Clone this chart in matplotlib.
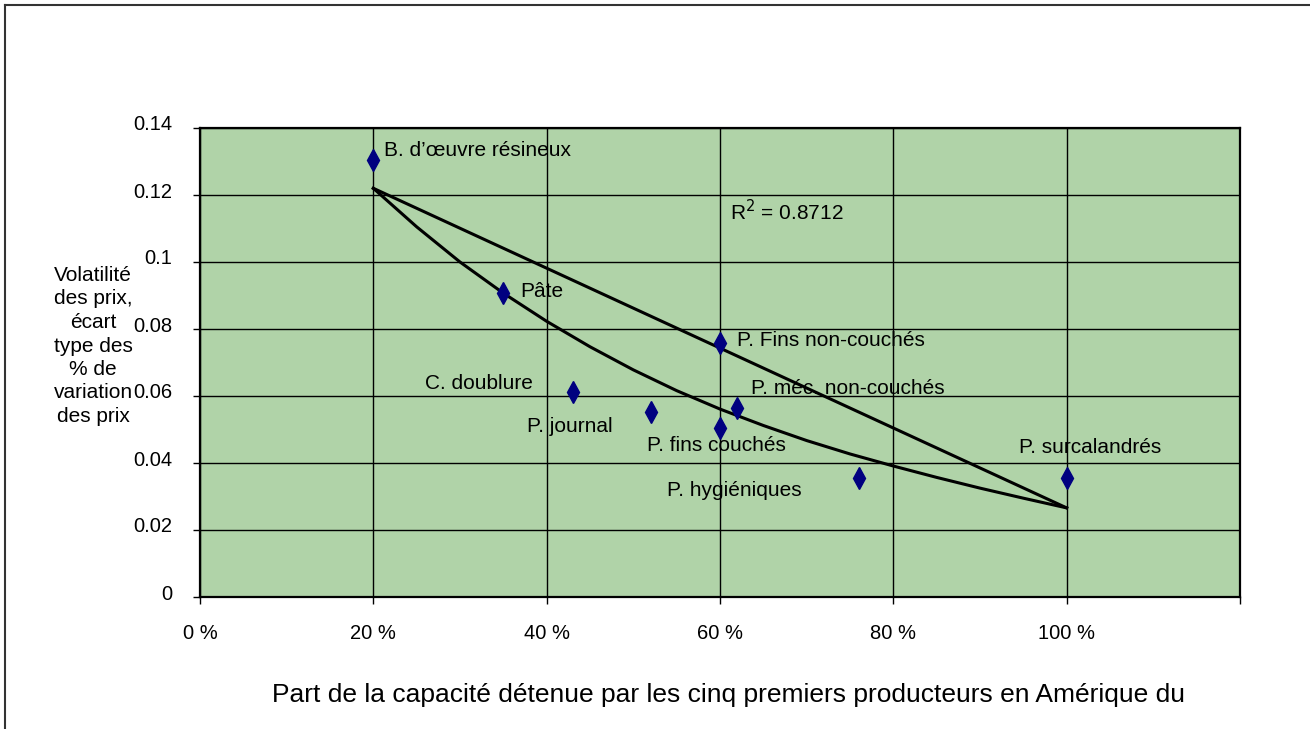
import matplotlib
matplotlib.use("Agg")

import matplotlib.pyplot as plt
import matplotlib.transforms as mtransforms
from matplotlib.lines import Line2D

plt.rcParams["font.family"] = ["Liberation Sans", "DejaVu Sans"]

# Products (share held by top five producers, price volatility)
products = [
    "B. d\u2019\u0153uvre r\u00e9sineux", "P\u00e2te", "C. doublure", "P. journal",
    "P. fins couch\u00e9s", "P. hygi\u00e9niques", "P. Fins non-couch\u00e9s",
    "P. m\u00e9c. non-couch\u00e9s", "P. surcalandr\u00e9s",
]
share = [0.20, 0.35, 0.43, 0.52, 0.60, 0.76, 0.60, 0.62, 1.00]
volatility = [0.1304, 0.0907, 0.0613, 0.0553, 0.0504, 0.0354, 0.0757, 0.0563, 0.0354]

# Trend curve
trend_x = [0.20, 0.25, 0.30, 0.35, 0.40, 0.45, 0.50, 0.55, 0.60,
           0.65, 0.70, 0.75, 0.80, 0.85, 0.90, 0.95, 1.00]
trend_y = [0.1220, 0.1105, 0.1000, 0.0907, 0.0823, 0.0747, 0.0678, 0.0616, 0.0561,
           0.0512, 0.0467, 0.0427, 0.0391, 0.0357, 0.0325, 0.0295, 0.0266]

# Straight line between the trend end points
line_x = [0.20, 1.00]
line_y = [0.122, 0.0266]

r2_text = "R$^2$ = 0.8712"

x_ticks = [0, 0.2, 0.4, 0.6, 0.8, 1.0, 1.2]
x_labels = ["0 %", "20 %", "40 %", "60 %", "80 %", "100 %", ""]
y_ticks = [0, 0.02, 0.04, 0.06, 0.08, 0.1, 0.12, 0.14]
y_labels = ["0", "0.02", "0.04", "0.06", "0.08", "0.1", "0.12", "0.14"]

# label anchor positions (left, baseline) in data units
label_pos = [
    (0.2122, 0.1316), (0.3691, 0.0897), (0.2595, 0.0621), (0.3768, 0.0493),
    (0.5152, 0.0437), (0.5386, 0.0301), (0.6201, 0.0750), (0.6355, 0.0606),
    (0.9446, 0.0429),
]

fig = plt.figure(figsize=(13.1, 7.29), dpi=100)
ax = fig.add_axes([200 / 1310, 132 / 729, 1040 / 1310, 469 / 729])
ax.set_facecolor("#b0d3a8")

ax.set_xlim(0, 1.2)
ax.set_ylim(0, 0.14)
ax.set_xticks(x_ticks)
ax.set_xticklabels(x_labels)
ax.set_yticks(y_ticks)
ax.set_yticklabels(y_labels)
ax.grid(True, color="black", linewidth=1.0)
ax.set_axisbelow(True)
ax.tick_params(axis="both", direction="out", length=5, width=1, labelsize=14.5,
               colors="black")
ax.tick_params(axis="x", pad=14.5)
ax.tick_params(axis="y", pad=15)
for lab in ax.get_yticklabels():
    lab.set_transform(lab.get_transform()
                      + mtransforms.ScaledTranslation(0, 5 / 100, fig.dpi_scale_trans))
for sp in ax.spines.values():
    sp.set_linewidth(1.6)
    sp.set_color("black")

ax.plot(line_x, line_y, color="black", linewidth=2.2, zorder=3)
ax.plot(trend_x, trend_y, color="black", linewidth=2.2, zorder=3)
ax.plot(share, volatility, linestyle="none", marker="d", markersize=11,
        color="#000080", zorder=4)

for name, (tx, ty) in zip(products, label_pos):
    ax.text(tx, ty, name, fontsize=15, ha="left", va="baseline", zorder=5)
ax.text(0.6121, 0.1125, r2_text, fontsize=15, ha="left", va="baseline", zorder=5)

fig.text(93 / 1310, 1 - 346 / 729,
         "Volatilit\u00e9\ndes prix,\n\u00e9cart\ntype des\n% de\nvariation\ndes prix",
         fontsize=15, ha="center", va="center", multialignment="center",
         linespacing=1.3)
fig.text(729 / 1310, 1 - 702 / 729,
         "Part de la capacit\u00e9 d\u00e9tenue par les cinq premiers producteurs en Am\u00e9rique du",
         fontsize=19, ha="center", va="baseline")

# outer frame (left and top edges visible)
fig.add_artist(Line2D([5 / 1310, 5 / 1310], [0, 1 - 5 / 729], transform=fig.transFigure,
                      color="#333333", linewidth=1.5))
fig.add_artist(Line2D([5 / 1310, 1], [1 - 5 / 729, 1 - 5 / 729], transform=fig.transFigure,
                      color="#333333", linewidth=1.5))

fig.savefig("out.png", dpi=100)
